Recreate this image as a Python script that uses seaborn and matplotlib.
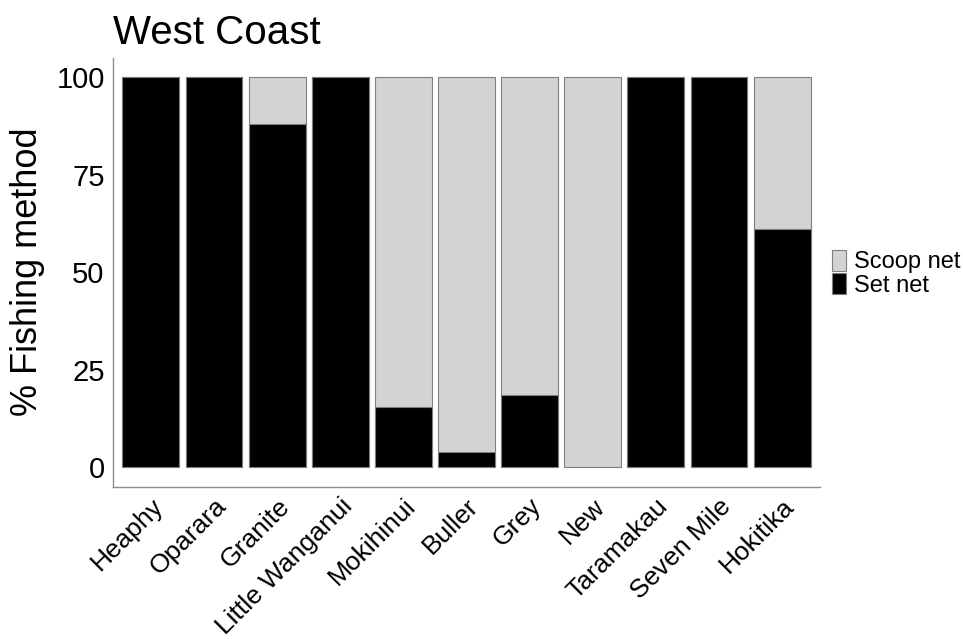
import matplotlib
matplotlib.use("Agg")
import matplotlib.pyplot as plt
import seaborn as sns
from matplotlib.patches import Patch
from pandas import DataFrame

# data
rivers = ["Heaphy", "Oparara", "Granite", "Little Wanganui", "Mokihinui",
          "Buller", "Grey", "New", "Taramakau", "Seven Mile", "Hokitika"]
set_net = [100, 100, 88, 100, 15.5, 4, 18.5, 0, 100, 100, 61]
scoop_net = [0, 0, 12, 0, 84.5, 96, 81.5, 100, 0, 0, 39]

df = DataFrame({"river": rivers, "set": set_net, "scoop": scoop_net})
df["total"] = df["set"] + df["scoop"]

sns.set_style("white")
plt.rcParams["font.family"] = ["Liberation Sans", "DejaVu Sans"]
plt.rcParams["text.color"] = "black"
plt.rcParams["axes.labelcolor"] = "black"

fig = plt.figure(figsize=(9.63, 6.39), dpi=100)
ax = fig.add_axes([0.1173, 0.2379, 0.7342, 0.6721])

edge = "#7f7f7f"
# scoop net stacked on top: draw total first, then set net over it
sns.barplot(data=df, x="river", y="total", order=rivers, color="#d3d3d3",
            saturation=1, width=0.9, edgecolor=edge, linewidth=0.8, ax=ax)
sns.barplot(data=df[df["set"] > 0], x="river", y="set", order=rivers, color="black",
            saturation=1, width=0.9, edgecolor=edge, linewidth=0.8, ax=ax)

ax.set_xlim(-0.6, len(rivers) - 0.4)
ax.set_ylim(-5, 105)
ax.set_yticks([0, 25, 50, 75, 100])

for side in ["top", "right"]:
    ax.spines[side].set_visible(False)
for side in ["left", "bottom"]:
    ax.spines[side].set_color("#8c8c8c")
    ax.spines[side].set_linewidth(1.0)

ax.tick_params(axis="both", colors="#8c8c8c", length=4, width=0.8,
               labelcolor="black")
ax.tick_params(axis="y", labelsize=21, pad=2)
ax.tick_params(axis="x", labelsize=19, pad=1)
plt.setp(ax.get_xticklabels(), rotation=45, ha="right", rotation_mode="anchor")

ax.set_xlabel("")
ax.set_ylabel("% Fishing method", fontsize=26, labelpad=8, color="black")
ax.set_title("West Coast", fontsize=29, loc="left", x=0.0, pad=10, color="black")

handles = [Patch(facecolor="#d3d3d3", edgecolor=edge, linewidth=0.8, label="Scoop net"),
           Patch(facecolor="black", edgecolor=edge, linewidth=0.8, label="Set net")]
fig.legend(handles=handles, loc="center left", bbox_to_anchor=(0.852, 0.572),
           frameon=False, fontsize=17, handlelength=0.6, handleheight=0.95,
           handletextpad=0.3, labelspacing=0.0, borderpad=0)

fig.savefig("out.png", dpi=100)
